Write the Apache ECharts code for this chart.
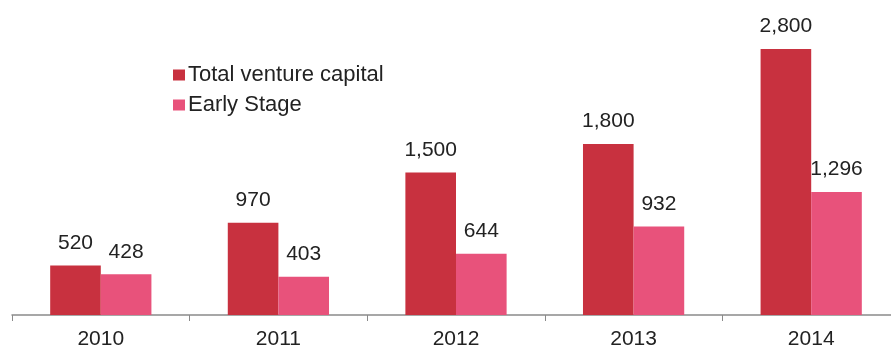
<!DOCTYPE html>
<html>
<head>
<meta charset="utf-8">
<script src="https://cdn.jsdelivr.net/npm/echarts@6/dist/echarts.min.js"></script>
<style>
  html, body { margin: 0; padding: 0; background: #fff; }
  #chart { width: 891px; height: 350px; }
</style>
</head>
<body>
<div id="chart"></div>
<script>
// Venture capital investment by year
const years = ['2010', '2011', '2012', '2013', '2014'];
const totalVC = [520, 970, 1500, 1800, 2800];
const earlyStage = [428, 403, 644, 932, 1296];

const fontFamily = '"Liberation Sans", Arial, sans-serif';
const labelStyle = {
  show: true,
  position: 'top',
  distance: 12,
  color: '#222',
  fontSize: 21,
  fontFamily: fontFamily,
  formatter: p => p.value.toLocaleString('en-US')
};

const chart = echarts.init(document.getElementById('chart'));
chart.setOption({
  animation: false,
  grid: { left: 12, width: 888, top: 30, bottom: 35, containLabel: false, outerBoundsMode: 'none' },
  legend: {
    orient: 'vertical',
    left: 168,
    top: 59,
    itemWidth: 12,
    itemHeight: 11,
    itemGap: 8,
    icon: 'rect',
    textStyle: { fontSize: 22, color: '#222', fontFamily: fontFamily, padding: [0, 0, 0, -2] },
    data: ['Total venture capital', 'Early Stage']
  },
  xAxis: {
    type: 'category',
    data: years,
    axisLine: { lineStyle: { color: '#8a8a8a', width: 1.5 } },
    axisTick: { show: true, length: 6, lineStyle: { color: '#8a8a8a' } },
    axisLabel: { color: '#222', fontSize: 21, fontFamily: fontFamily, margin: 14 }
  },
  yAxis: {
    type: 'value',
    min: 0,
    max: 3000,
    show: false,
    splitLine: { show: false }
  },
  series: [
    {
      name: 'Total venture capital',
      type: 'bar',
      data: totalVC,
      barWidth: '28.5%',
      barGap: '0%',
      itemStyle: { color: '#C8313F' },
      label: labelStyle
    },
    {
      name: 'Early Stage',
      type: 'bar',
      data: earlyStage,
      barWidth: '28.5%',
      itemStyle: { color: '#E8527B' },
      label: labelStyle
    }
  ]
});
</script>
</body>
</html>
